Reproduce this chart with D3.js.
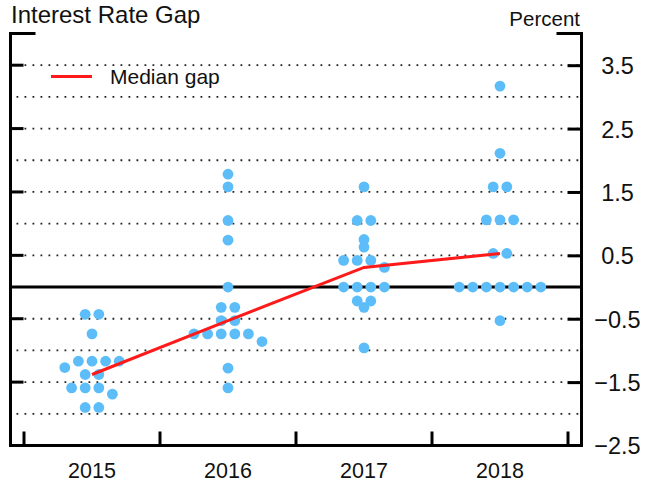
<!DOCTYPE html>
<html>
<head>
<meta charset="utf-8">
<script src="https://cdn.jsdelivr.net/npm/d3@7"></script>
<style>
  body { margin: 0; background: #fff; }
  svg { display: block; }
  text { font-family: "Liberation Sans", Arial, Helvetica, sans-serif; fill: #111; }
</style>
</head>
<body>
<svg id="chart" width="658" height="483"></svg>
<script>
// ---- data -------------------------------------------------------------
const years = ["2015", "2016", "2017", "2018"];

// Individual gaps, percentage points (order within a year decides
// left-to-right order when neighbouring dots share one row)
const gaps2015 = [-0.43, -0.43, -0.74, -1.27, -1.17, -1.17, -1.17, -1.17,
                  -1.38, -1.38, -1.59, -1.59, -1.59, -1.69, -1.90, -1.90];
const gaps2016 = [1.78, 1.58, 1.05, 0.74, 0, -0.32, -0.32, -0.53, -0.53,
                  -0.74, -0.74, -0.74, -0.74, -0.74, -0.86, -1.28, -1.59];
const gaps2017 = [1.58, 1.05, 1.05, 0.75, 0.63, 0.42, 0.42, 0.42, 0.31,
                  0, 0, 0, 0, -0.22, -0.22, -0.32, -0.96];
const gaps2018 = [3.17, 2.11, 1.58, 1.58, 1.06, 1.06, 1.06, 0.53, 0.53,
                  0, 0, 0, 0, 0, 0, 0, -0.53];

const medianGap = [-1.38, -0.53, 0.31, 0.53];

const yTickValues = [3.5, 2.5, 1.5, 0.5, -0.5, -1.5, -2.5];
const gridValues = [3.5, 3, 2.5, 2, 1.5, 1, 0.5, -0.5, -1, -1.5, -2];

// ---- setup ------------------------------------------------------------
const svg = d3.select("#chart");
const frameL = 10.5, frameR = 581.5;

const x = d3.scaleBand().domain(years).range([24, 568]).padding(0);
const y = d3.scaleLinear().domain([-2.5, 4]).range([445.5, 33.5]);
const xc = d => x(d) + x.bandwidth() / 2;

const DOT_R = 5.4;
const STEP = 13.6;
const dotColor = "#5dbdf8";
const lineColor = "#ff1a1a";

// ---- dotted grid + zero line -----------------------------------------
svg.append("g").selectAll("line").data(gridValues).join("line")
  .attr("x1", frameL + 6).attr("x2", frameR - 1)
  .attr("y1", d => y(d)).attr("y2", d => y(d))
  .attr("stroke", "#222").attr("stroke-width", 1.8)
  .attr("stroke-dasharray", "1.8,6.2");

svg.append("line")
  .attr("x1", frameL).attr("x2", frameR)
  .attr("y1", y(0)).attr("y2", y(0))
  .attr("stroke", "#000").attr("stroke-width", 3);

// ---- frame ------------------------------------------------------------
svg.append("path")
  .attr("d", `M${frameL + 25},${y(4)}H${frameL}V${y(-2.5)}H${frameR}V${y(4)}H${frameR - 25}`)
  .attr("fill", "none").attr("stroke", "#000").attr("stroke-width", 3)
  .attr("stroke-linejoin", "miter");

// left ticks (mirror of the right axis)
svg.append("g").selectAll("line").data(yTickValues.filter(v => v > -2.5)).join("line")
  .attr("x1", frameL).attr("x2", frameL + 13)
  .attr("y1", d => y(d)).attr("y2", d => y(d))
  .attr("stroke", "#000").attr("stroke-width", 3);

// right axis: ticks point inward, labels outside
const yAxis = d3.axisRight(y)
  .tickValues(yTickValues)
  .tickSizeInner(-14).tickSizeOuter(0)
  .tickPadding(0)
  .tickFormat(d3.format(".1f"));
const gy = svg.append("g").attr("transform", `translate(${frameR},0)`).call(yAxis);
gy.select(".domain").remove();
gy.selectAll(".tick line").attr("stroke", "#000").attr("stroke-width", 3)
  .filter(d => d === -2.5).remove();
gy.selectAll(".tick text")
  .attr("x", 36).attr("dy", "0.36em")
  .attr("text-anchor", "middle")
  .style("font-size", "23.5px").style("fill", "#111")
  .attr("font-family", null);

// bottom ticks at band edges
const edges = years.map(d => x(d)).concat([x.range()[1]]);
svg.append("g").selectAll("line").data(edges).join("line")
  .attr("x1", d => d).attr("x2", d => d)
  .attr("y1", y(-2.5)).attr("y2", y(-2.5) - 14)
  .attr("stroke", "#000").attr("stroke-width", 3);

// year labels
const xAxis = d3.axisBottom(x).tickSize(0).tickPadding(0);
const gx = svg.append("g").attr("transform", "translate(0,478)").call(xAxis);
gx.select(".domain").remove();
gx.selectAll(".tick text").attr("y", 0).attr("dy", 0)
  .style("font-size", "21.5px").style("fill", "#111").attr("font-family", null);

// ---- dot packing ------------------------------------------------------
// Equal values share a centred row. A lone dot that sits directly on a
// multi-dot row, or is wedged between the rows above and below, joins the
// row above instead of overlapping it.
function packDots(values) {
  const items = values.map((v, i) => ({ v, i }));
  const rows = d3.groups(items, d => d.v)
    .map(([v, list]) => ({ v, list }))
    .sort((a, b) => b.v - a.v);
  const slots = n => d3.range(n).map(k => k - (n - 1) / 2);
  const D = 2 * DOT_R;
  const clusters = [];
  rows.forEach((row, k) => {
    let merge = false;
    if (row.list.length === 1 && k > 0) {
      const above = rows[k - 1], below = rows[k + 1];
      const dist = r => slots(r.list.length)
        .map(s => Math.hypot(s * STEP, y(r.v) - y(row.v)));
      const dA = dist(above);
      const dB = below ? dist(below) : [];
      const crowd = dA.concat(dB).filter(d => d < D).length;
      const direct = above.list.length > 1 && d3.min(dA) < 0.75 * D;
      merge = crowd >= 3 || direct;
    }
    if (merge) clusters[clusters.length - 1].push(...row.list);
    else clusters.push(row.list.slice());
  });
  const out = [];
  clusters.forEach(c => {
    c.sort((a, b) => a.i - b.i);
    const s = slots(c.length);
    c.forEach((d, j) => out.push({ v: d.v, dx: s[j] * STEP }));
  });
  return out;
}

const allGaps = [gaps2015, gaps2016, gaps2017, gaps2018];
const dots = years.flatMap((yr, k) =>
  packDots(allGaps[k]).map(d => ({ year: yr, v: d.v, dx: d.dx })));

svg.append("g").selectAll("circle").data(dots).join("circle")
  .attr("cx", d => xc(d.year) + d.dx)
  .attr("cy", d => y(d.v))
  .attr("r", DOT_R)
  .attr("fill", dotColor);

// ---- median line ------------------------------------------------------
const medianLine = d3.line().x(d => xc(d.year)).y(d => y(d.v));
svg.append("path")
  .datum(years.map((yr, k) => ({ year: yr, v: medianGap[k] })))
  .attr("d", medianLine)
  .attr("fill", "none").attr("stroke", lineColor).attr("stroke-width", 3);

// ---- legend + titles --------------------------------------------------
svg.append("line")
  .attr("x1", 51).attr("x2", 92).attr("y1", 76.5).attr("y2", 76.5)
  .attr("stroke", lineColor).attr("stroke-width", 3);
svg.append("text").attr("x", 110).attr("y", 83.5)
  .style("font-size", "21px").text("Median gap");

svg.append("text").attr("x", 11).attr("y", 22.5)
  .style("font-size", "24px").text("Interest Rate Gap");

svg.append("text").attr("x", 580).attr("y", 26)
  .attr("text-anchor", "end")
  .style("font-size", "20.5px").text("Percent");
</script>
</body>
</html>
